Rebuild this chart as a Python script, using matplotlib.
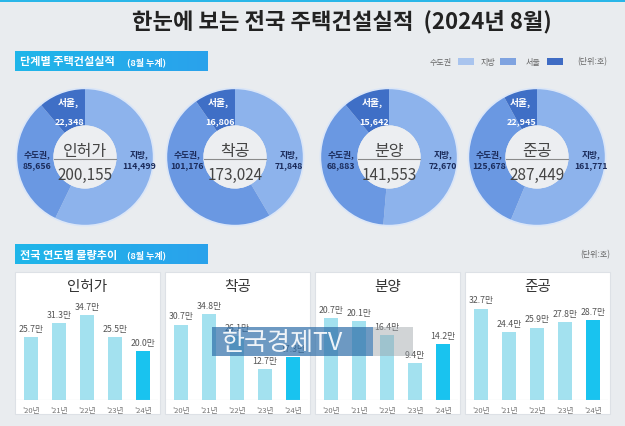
import matplotlib
matplotlib.use('Agg')
import matplotlib.pyplot as plt
import numpy as np
from matplotlib.patches import Rectangle, Circle

plt.rcParams['font.family'] = ['Noto Sans CJK KR', 'DejaVu Sans']

# ---- data ----
stages = ['인허가', '착공', '분양', '준공']
total = [200155, 173024, 141553, 287449]
sudo = [85656, 101176, 68883, 125678]      # 수도권 (서울 포함)
jibang = [114499, 71848, 72670, 161771]    # 지방
seoul = [22348, 16806, 15642, 22945]       # 서울

years = ["'20년", "'21년", "'22년", "'23년", "'24년"]
trend = {
    '인허가': [25.7, 31.3, 34.7, 25.5, 20.0],
    '착공': [30.7, 34.8, 26.1, 12.7, 17.3],
    '분양': [20.7, 20.1, 16.4, 9.4, 14.2],
    '준공': [32.7, 24.4, 25.9, 27.8, 28.7],
}

# ---- style ----
W, H = 625, 427
BG = '#e9ecef'
C_JIBANG = '#8db3ec'
C_SUDO = '#6a98e2'
C_SEOUL = '#3f6fc6'
C_BAR = '#a3e1ef'
C_BAR_HI = '#19c3ef'
TXT = '#444444'
NAVY = '#1b2b5a'

fig = plt.figure(figsize=(W / 100, H / 100), dpi=100)
fig.patch.set_facecolor(BG)

ax0 = fig.add_axes([0, 0, 1, 1])
ax0.set_facecolor(BG)


def px_axes(x, y, w, h):
    return fig.add_axes([x / W, 1 - (y + h) / H, w / W, h / H])


# top line + title
ax0.add_patch(Rectangle((0, 0), W, 3, color='#29b6e8', lw=0))
ax0.text(342, 22, '한눈에 보는 전국 주택건설실적  (2024년 8월)', ha='center', va='center',
         fontsize=16, fontweight='bold', color='#222222')

# section headers with gradient
grad = np.linspace(0, 1, 100).reshape(1, -1)
cmap = matplotlib.colors.LinearSegmentedColormap.from_list('hdr', ['#1fb6e9', '#2aa2ec'])


def header(y, title):
    ax0.imshow(grad, extent=(15, 208, y + 20, y), cmap=cmap, aspect='auto', zorder=1)
    ax0.text(20, y + 10, title, color='white', fontsize=8, fontweight='bold',
             va='center', ha='left', zorder=2)
    ax0.text(127, y + 10.5, '(8월 누계)', color='white', fontsize=6.5, fontweight='bold',
             va='center', ha='left', zorder=2)


header(52, '단계별 주택건설실적')
header(245, '전국 연도별 물량추이')
ax0.set_xlim(0, W)
ax0.set_ylim(H, 0)
ax0.axis('off')

# legend
leg_items = [('수도권', 430, 458, '#a9c4ee'), ('지방', 481, 500, '#7fa3e0'),
             ('서울', 526, 547, '#3f6cc4')]
for name, tx, sx, c in leg_items:
    ax0.text(tx, 62, name, fontsize=5.8, color='#666666', va='center', ha='left')
    ax0.add_patch(Rectangle((sx, 58.5), 16, 7, color=c, lw=0))
ax0.text(607, 62, '(단위:호)', fontsize=5.8, color='#666666', va='center', ha='right')
ax0.text(610, 255, '(단위:호)', fontsize=5.8, color='#666666', va='center', ha='right')

# donuts
centers = [85, 235, 389, 537]
for i, cx in enumerate(centers):
    ax = px_axes(cx - 70, 158 - 70, 140, 140)
    ax.set_aspect('equal')
    ax.axis('off')
    vals = [jibang[i], sudo[i] - seoul[i], seoul[i]]
    ax.pie(vals, colors=[C_JIBANG, C_SUDO, C_SEOUL], startangle=90, counterclock=False,
           radius=1.0, wedgeprops=dict(width=0.54, edgecolor='none'))
    ax.add_patch(Circle((0, 0), 1.0, fill=False, edgecolor='#dbe6f7', lw=1.2))
    ax.add_patch(Circle((0, 0), 0.46, color='#eceef1', lw=0))
    ax.plot([-0.45, 0.45], [-0.03, -0.03], color='#8a8a8a', lw=0.8)
    ax.text(0, 0.1, stages[i], ha='center', va='center', fontsize=11.5, color=TXT)
    ax.text(0, -0.25, f'{total[i]:,}', ha='center', va='center', fontsize=11, color=TXT)
    ax.text(-0.25, 0.8, '서울,', ha='center', va='center', fontsize=7, color='white',
            fontweight='bold')
    ax.text(-0.22, 0.53, f'{seoul[i]:,}', ha='center', va='center', fontsize=6.5,
            color='white', fontweight='bold')
    ax.text(-0.7, -0.03, f'수도권,\n{sudo[i]:,}', ha='center', va='center', fontsize=6.3,
            color=NAVY, fontweight='bold', linespacing=1.4)
    ax.text(0.79, -0.03, f'지방,\n{jibang[i]:,}', ha='center', va='center', fontsize=6.3,
            color=NAVY, fontweight='bold', linespacing=1.4)
    ax.set_xlim(-1.02, 1.02)
    ax.set_ylim(-1.02, 1.02)

# bar panels
panel_x = [15, 165, 315, 465]
ymax = [41.2, 41.1, 25.6, 36.1]
for i, px in enumerate(panel_x):
    ax0.add_patch(Rectangle((px, 273), 145, 142, facecolor='white', edgecolor='#dde1e6',
                            lw=0.8, zorder=1))
    ax0.text(px + 72.5, 287, stages[i], ha='center', va='center', fontsize=10.5,
             color='#333333', zorder=3)
    ax = px_axes(px + 1, 300, 142, 101)
    ax.set_facecolor('none')
    vals = trend[stages[i]]
    x = np.arange(len(vals))
    colors = [C_BAR] * (len(vals) - 1) + [C_BAR_HI]
    ax.bar(x, vals, width=0.5, color=colors, zorder=2)
    for xi, v in zip(x, vals):
        ax.annotate(f'{v:.1f}만', (xi, v), xytext=(0, 3), textcoords='offset points',
                    ha='center', va='bottom', fontsize=6.3, color='#555555')
    ax.axhline(0, color='#c5c9ce', lw=0.8, zorder=3)
    ax.set_xlim(-0.54, 4.54)
    ax.set_ylim(0, ymax[i])
    ax.set_xticks(x)
    ax.set_xticklabels(years, fontsize=5.5, color='#777777')
    ax.tick_params(length=0, pad=4)
    ax.set_yticks([])
    for s in ax.spines.values():
        s.set_visible(False)

# watermark (covers part of the 착공 panel as in the source image)
axw = fig.add_axes([0, 0, 1, 1], zorder=10)
axw.set_xlim(0, W)
axw.set_ylim(H, 0)
axw.axis('off')
axw.add_patch(Rectangle((212, 328), 161, 29, color='#2f6ea8', alpha=0.7, lw=0))
axw.add_patch(Rectangle((373, 328), 40, 29, color='#9aa0a6', alpha=0.45, lw=0))
axw.text(222, 343, '한국경제TV', ha='left', va='center', fontsize=18, color='white',
         alpha=0.9)

fig.savefig('out.png', dpi=100, facecolor=fig.get_facecolor())
